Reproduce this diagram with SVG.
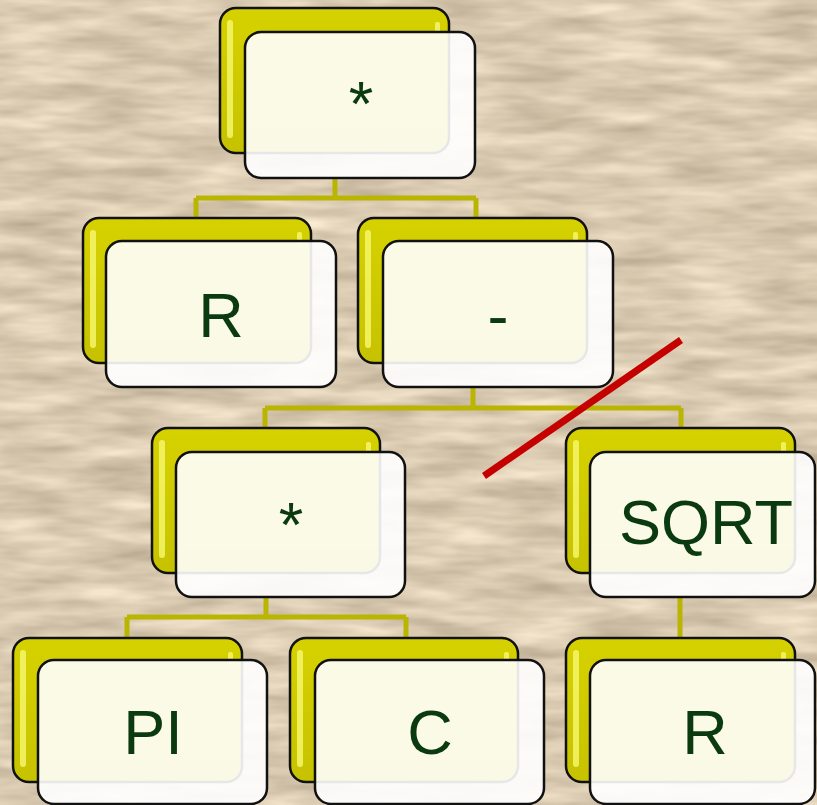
<svg xmlns="http://www.w3.org/2000/svg" width="817" height="805" viewBox="0 0 817 805">
<defs>
<filter id="tex" x="0" y="0" width="100%" height="100%" color-interpolation-filters="sRGB">
<feTurbulence type="fractalNoise" baseFrequency="0.012 0.06" numOctaves="3" seed="7"/>
<feColorMatrix type="matrix" values="0.35 0 0 0 0.68  0.35 0 0 0 0.62  0.35 0 0 0 0.52  0 0 0 0 1"/>
</filter>
<linearGradient id="yel" x1="0" y1="0" x2="0" y2="1">
<stop offset="0" stop-color="#d6d200"/>
<stop offset="1" stop-color="#c6c200"/>
</linearGradient>
<style>
.back{fill:url(#yel);stroke:#111;stroke-width:2.5}
.hl{fill:#f6f66a;opacity:0.85}
.front{fill:#ffffff;fill-opacity:0.9;stroke:#111;stroke-width:2.5}
.lbl{font-family:"Liberation Sans",Arial,sans-serif;font-size:63px;fill:#0b3a10;text-anchor:middle}
.con{fill:none;stroke:#b9b500;stroke-width:5}
</style>
</defs>
<rect width="817" height="805" fill="#d9ccb5"/>
<rect width="817" height="805" filter="url(#tex)" opacity="0.9"/>
<g id="connectors">
<path class="con" d="M335 178V198M196 198H476M196 198V220M476 198V220"/>
<path class="con" d="M473 387V408M265 408H681M265 408V430M681 408V430"/>
<path class="con" d="M266 597V617M127 617H406M127 617V640M406 617V640"/>
<path class="con" d="M680 597V640"/>
</g>
<g id="n_mul_top">
<rect class="back" x="220" y="8" width="229" height="145" rx="16"/>
<rect class="hl" x="227" y="20" width="6" height="118" rx="3"/>
<rect class="hl" x="435" y="22" width="5" height="12" rx="2"/>
<rect class="front" x="245" y="32" width="230" height="146" rx="16"/>
<text class="lbl" x="361" y="125">*</text>
</g>
<g id="n_R1">
<rect class="back" x="83" y="218" width="228" height="145" rx="16"/>
<rect class="hl" x="90" y="230" width="6" height="118" rx="3"/>
<rect class="hl" x="297" y="232" width="5" height="12" rx="2"/>
<rect class="front" x="106" y="241" width="230" height="146" rx="16"/>
<text class="lbl" x="221" y="337">R</text>
</g>
<g id="n_minus">
<rect class="back" x="358" y="218" width="229" height="145" rx="16"/>
<rect class="hl" x="365" y="230" width="6" height="118" rx="3"/>
<rect class="hl" x="573" y="232" width="5" height="12" rx="2"/>
<rect class="front" x="383" y="241" width="230" height="146" rx="16"/>
<text class="lbl" x="498" y="337">-</text>
</g>
<g id="n_mul2">
<rect class="back" x="152" y="428" width="228" height="145" rx="16"/>
<rect class="hl" x="159" y="440" width="6" height="118" rx="3"/>
<rect class="hl" x="366" y="442" width="5" height="12" rx="2"/>
<rect class="front" x="176" y="452" width="229" height="145" rx="16"/>
<text class="lbl" x="291" y="546">*</text>
</g>
<g id="n_sqrt">
<rect class="back" x="566" y="428" width="229" height="145" rx="16"/>
<rect class="hl" x="573" y="440" width="6" height="118" rx="3"/>
<rect class="hl" x="781" y="442" width="5" height="12" rx="2"/>
<rect class="front" x="590" y="452" width="225" height="145" rx="16"/>
<text class="lbl" x="706" y="544">SQRT</text>
</g>
<g id="n_PI">
<rect class="back" x="13" y="638" width="229" height="144" rx="16"/>
<rect class="hl" x="20" y="650" width="6" height="117" rx="3"/>
<rect class="hl" x="228" y="652" width="5" height="12" rx="2"/>
<rect class="front" x="38" y="660" width="229" height="144" rx="16"/>
<text class="lbl" x="153" y="754">PI</text>
</g>
<g id="n_C">
<rect class="back" x="290" y="638" width="228" height="144" rx="16"/>
<rect class="hl" x="297" y="650" width="6" height="117" rx="3"/>
<rect class="hl" x="504" y="652" width="5" height="12" rx="2"/>
<rect class="front" x="315" y="660" width="229" height="144" rx="16"/>
<text class="lbl" x="430" y="754">C</text>
</g>
<g id="n_R2">
<rect class="back" x="566" y="638" width="229" height="144" rx="16"/>
<rect class="hl" x="573" y="650" width="6" height="117" rx="3"/>
<rect class="hl" x="781" y="652" width="5" height="12" rx="2"/>
<rect class="front" x="590" y="660" width="225" height="144" rx="16"/>
<text class="lbl" x="705" y="754">R</text>
</g>
<line x1="484" y1="476" x2="681" y2="340" stroke="#c40000" stroke-width="7"/>
</svg>
